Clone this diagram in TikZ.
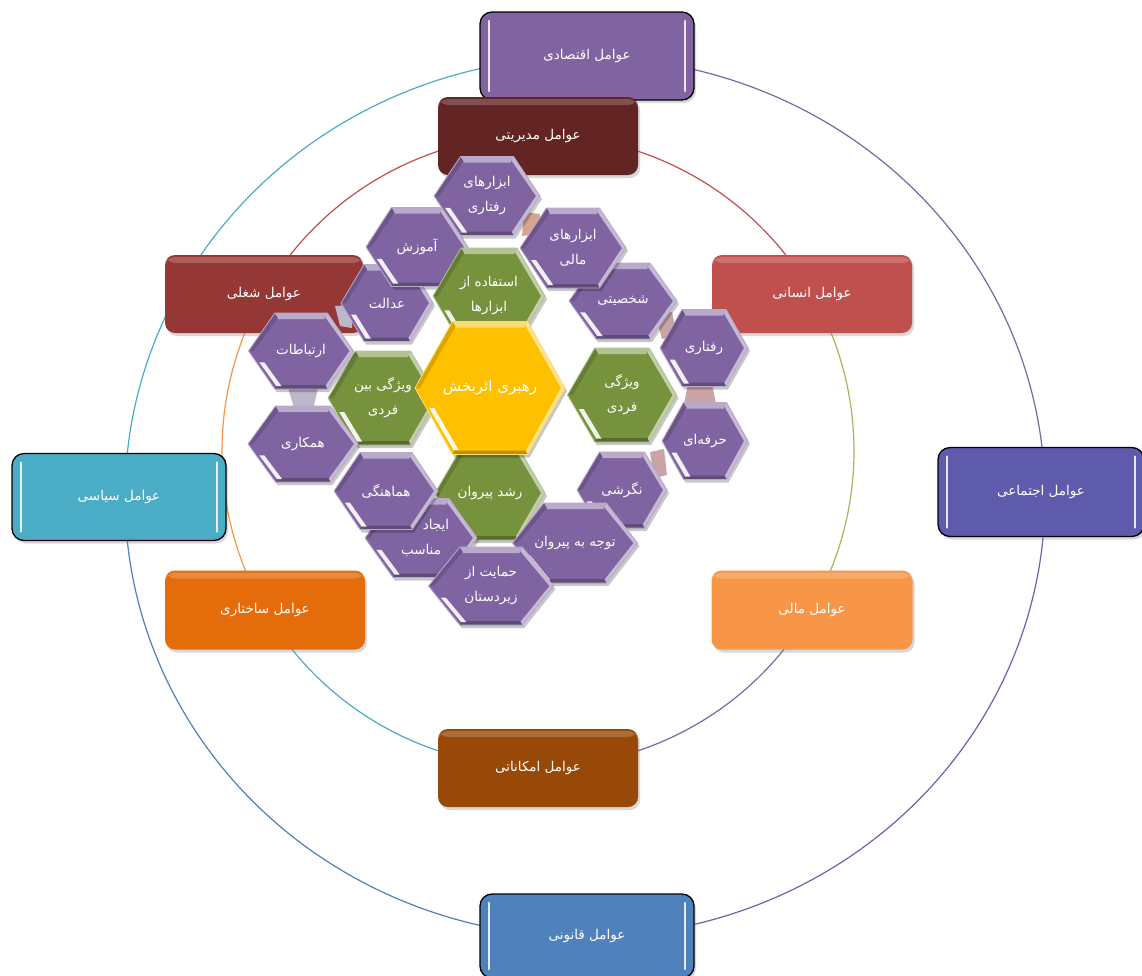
\documentclass[tikz,border=0pt]{standalone}
\usepackage{fontspec}
\usetikzlibrary{shadows}
\newfontfamily\arabicfont[Script=Arabic]{DejaVu Sans}
\TeXXeTstate=1
\newcommand\ar[1]{\beginR#1\endR}
\definecolor{econ}{HTML}{8064A2}
\definecolor{mgmt}{HTML}{632523}
\definecolor{human}{HTML}{C0504D}
\definecolor{occ}{HTML}{953735}
\definecolor{polit}{HTML}{4BACC6}
\definecolor{social}{HTML}{5E5AAC}
\definecolor{struct}{HTML}{E46C0A}
\definecolor{finan}{HTML}{F79646}
\definecolor{facil}{HTML}{984807}
\definecolor{legal}{HTML}{4F81BD}
\definecolor{hexp}{HTML}{8064A2}
\definecolor{hexg}{HTML}{76923C}
\definecolor{hexy}{HTML}{FFC000}
\definecolor{ringgreen}{HTML}{9BBB59}
\definecolor{ringind}{HTML}{6E62B0}
\definecolor{tan}{HTML}{D7A48E}
\definecolor{pinkc}{HTML}{C9A3A6}
\definecolor{grayc}{HTML}{BDB7CA}
\tikzset{
  ring/.style={line width=1.2pt, samples=80, smooth},
  fac/.style={rounded corners=10pt, text=white, inner sep=0pt,
    font=\arabicfont\fontsize{13.5}{15}\selectfont,
    drop shadow={shadow xshift=2pt, shadow yshift=-3pt, opacity=.3},
    path picture={\fill[white,opacity=.2]
      ([yshift=-2pt]path picture bounding box.north west) rectangle
      ([yshift=-8pt]path picture bounding box.north east);}},
  facb/.style={fac, draw=black, line width=1.3pt, rounded corners=12pt,
    path picture={
      \draw[white,line width=2.5pt,opacity=.85,line cap=round]
        ([xshift=9pt,yshift=-9pt]path picture bounding box.north west) --
        ([xshift=9pt,yshift=9pt]path picture bounding box.south west);
      \draw[white,line width=2.5pt,opacity=.85,line cap=round]
        ([xshift=-9pt,yshift=-9pt]path picture bounding box.north east) --
        ([xshift=-9pt,yshift=9pt]path picture bounding box.south east);}},
  hext/.style={text=white, align=center, inner sep=0pt,
    font=\arabicfont\fontsize{13.5}{25}\selectfont},
}
% #1 name, #2 x, #3 y, #4 w, #5 h, #6 colour, #7 text, #8 extra node options
\newcommand\hexa[8]{%
  \pgfmathsetmacro\hw{#4/2}\pgfmathsetmacro\hq{#4/4}\pgfmathsetmacro\hh{#5/2}%
  \begin{scope}[shift={(#2,#3)}]
    \fill[black,opacity=.22] ({-\hw+2},3) -- ({-\hq+2},{\hh+3}) -- ({\hq+2},{\hh+3})
      -- ({\hw+2},3) -- ({\hq+2},{-\hh+3}) -- ({-\hq+2},{-\hh+3}) -- cycle;
    \fill[#6] (-\hw,0) -- (-\hq,\hh) -- (\hq,\hh) -- (\hw,0) -- (\hq,-\hh) -- (-\hq,-\hh) -- cycle;
    \fill[#6!55!white] (-\hq,-\hh) -- (\hq,-\hh) -- ({\hq-3},{-\hh+6}) -- ({-\hq+3},{-\hh+6}) -- cycle;
    \fill[#6!45!white] (\hq,-\hh) -- (\hw,0) -- (\hq,\hh) -- ({\hq-2},{\hh-3}) -- ({\hw-4},0) -- ({\hq-2},{-\hh+4}) -- cycle;
    \fill[#6!75!black] (-\hq,\hh) -- (\hq,\hh) -- ({\hq-2},{\hh-4}) -- ({-\hq+2},{\hh-4}) -- cycle;
    \fill[#6!85!black] (-\hw,0) -- (-\hq,-\hh) -- ({-\hq+3},{-\hh+5}) -- ({-\hw+5},0) -- cycle;
    \fill[white,opacity=.9] ({-\hw+0.3*\hq+3},{0.3*\hh}) -- ({-\hw+0.95*\hq+3},{0.95*\hh-1})
      -- ({-\hw+0.95*\hq+8},{0.95*\hh-1}) -- ({-\hw+0.3*\hq+8},{0.3*\hh}) -- cycle;
    \draw[#6!55!white,line width=.8pt] (-\hw,0) -- (-\hq,\hh) -- (\hq,\hh) -- (\hw,0) -- (\hq,-\hh) -- (-\hq,-\hh) -- cycle;
  \end{scope}
  \node[hext,#8] (#1) at (#2,#3) {#7};
}
\begin{document}
\begin{tikzpicture}[x=1pt,y=-1pt]
\useasboundingbox (0,0) rectangle (1142,975);
\fill[white] (0,0) rectangle (1142,975);
% outer ring
\draw[ring, econ, domain=0:90] plot ({585+460*cos(\x)},{497-440*sin(\x)});
\draw[ring, polit, domain=90:180] plot ({585+460*cos(\x)},{497-440*sin(\x)});
\draw[ring, legal, domain=180:270] plot ({585+460*cos(\x)},{497-440*sin(\x)});
\draw[ring, ringind, domain=270:360] plot ({585+460*cos(\x)},{497-440*sin(\x)});
% inner ring
\draw[ring, human, domain=30:150] plot ({538+316*cos(\x)},{451-316*sin(\x)});
\draw[ring, finan, domain=150:210] plot ({538+316*cos(\x)},{451-316*sin(\x)});
\draw[ring, polit, domain=210:270] plot ({538+316*cos(\x)},{451-316*sin(\x)});
\draw[ring, econ, domain=270:330] plot ({538+316*cos(\x)},{451-316*sin(\x)});
\draw[ring, ringgreen, domain=-30:30] plot ({538+316*cos(\x)},{451-316*sin(\x)});
% outer boxes
\node[facb, fill=econ, minimum width=214pt, minimum height=88pt] (econ) at (587,56) {\ar{عوامل اقتصادی}};
\node[facb, fill=polit, minimum width=214pt, minimum height=87pt] (polit) at (119,497) {\ar{عوامل سیاسی}};
\node[facb, fill=social, minimum width=206pt, minimum height=89pt] (social) at (1041,492) {\ar{عوامل اجتماعی}};
\node[facb, fill=legal, minimum width=214pt, minimum height=84pt] (legal) at (587,936) {\ar{عوامل قانونی}};
% inner boxes
\node[fac, fill=mgmt, minimum width=200pt, minimum height=78pt] (mgmt) at (538,136) {\ar{عوامل مدیریتی}};
\node[fac, fill=human, minimum width=200pt, minimum height=78pt] (human) at (812,294) {\ar{عوامل انسانی}};
\node[fac, fill=finan, minimum width=201pt, minimum height=79pt] (finan) at (812,610) {\ar{عوامل مالی}};
\node[fac, fill=facil, minimum width=200pt, minimum height=78pt] (facil) at (538,768) {\ar{عوامل امکاناتی}};
\node[fac, fill=struct, minimum width=200pt, minimum height=79pt] (struct) at (265,610) {\ar{عوامل ساختاری}};
\node[fac, fill=occ, minimum width=198pt, minimum height=78pt] (occ) at (264,294) {\ar{عوامل شغلی}};
% small joints between hexagons
\fill[tan] (524,212) -- (540,214) -- (538,234) -- (522,236) -- cycle;
\fill[pinkc] (656,316) -- (672,312) -- (677,336) -- (662,339) -- cycle;
\fill[pinkc] (688,384) -- (712,384) -- (716,404) -- (684,404) -- cycle;
\fill[pinkc] (650,452) -- (664,449) -- (667,475) -- (654,478) -- cycle;
\fill[grayc] (335,306) -- (352,305) -- (352,328) -- (340,326) -- cycle;
\fill[grayc] (288,388) -- (318,388) -- (312,414) -- (296,414) -- cycle;
% hexagons below the green ones
\hexa{edalat}{387}{303}{92}{77}{hexp}{\ar{عدالت}}{}
\hexa{amoozesh}{417}{247}{102}{79}{hexp}{\ar{آموزش}}{}
\hexa{shakhsiati}{623}{301}{108}{76}{hexp}{\ar{شخصیتی}}{}
\hexa{abzmali}{573}{248}{106}{80}{hexp}{\ar{ابزارهای}\\\ar{مالی}}{}
\hexa{abzraftari}{487}{196}{106}{79}{hexp}{\ar{ابزارهای}\\\ar{رفتاری}}{}
% green ring
\hexa{estefade}{489}{296}{112}{96}{hexg}{\ar{استفاده از}\\\ar{ابزارها}}{}
\hexa{vfardi}{622}{395}{109}{94}{hexg}{\ar{ویژگی}\\\ar{فردی}}{}
\hexa{beinfardi}{383}{398}{110}{94}{hexg}{\ar{ویژگی بین}\\\ar{فردی}}{}
\hexa{roshd}{490}{493}{110}{94}{hexg}{\ar{رشد پیروان}}{}
% centre
\hexa{rahbari}{490}{388}{150}{133}{hexy}{\ar{رهبری اثربخش}}{font=\arabicfont\fontsize{15}{17}\selectfont}
% hexagons above the green ones
\hexa{raftari}{704}{348}{88}{77}{hexp}{\ar{رفتاری}}{}
\hexa{herfei}{705}{441}{86}{77}{hexp}{\ar{حرفه‌ای}}{}
\hexa{negareshi}{622}{490}{90}{76}{hexp}{\ar{نگرشی}}{}
\hexa{ertebatat}{301}{351}{105}{76}{hexp}{\ar{ارتباطات}}{}
\hexa{hamkari}{303}{444}{110}{76}{hexp}{\ar{همکاری}}{}
\hexa{ejad}{421}{538}{112}{79}{hexp}{\ar{ایجاد}\hspace*{-30pt}\\\ar{مناسب}}{}
\hexa{hamahangi}{386}{491}{104}{77}{hexp}{\ar{هماهنگی}}{}
\hexa{tavajoh}{575}{543}{125}{80}{hexp}{\ar{توجه به پیروان}}{}
\hexa{hemayat}{491}{586}{125}{78}{hexp}{\ar{حمایت از}\\\ar{زیردستان}}{}
\end{tikzpicture}
\end{document}
